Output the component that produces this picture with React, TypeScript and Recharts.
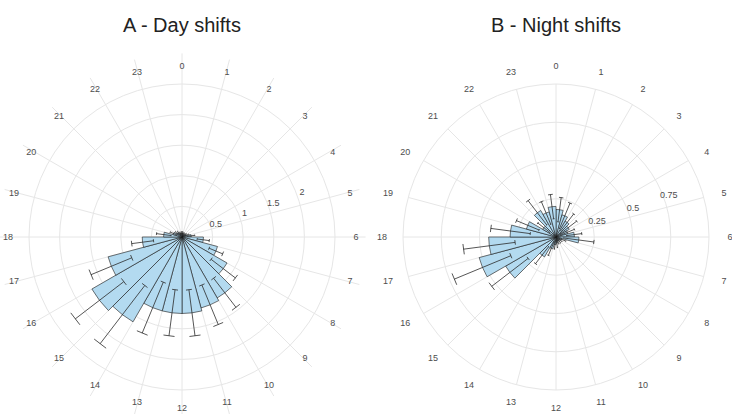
import React from 'react';
import {
  RadialBarChart, RadialBar, PolarAngleAxis, PolarRadiusAxis, PolarGrid, Sector
} from 'recharts';

const hours = [0, 1, 2, 3, 4, 5, 6, 7, 8, 9, 10, 11, 12, 13, 14, 15, 16, 17, 18, 19, 20, 21, 22, 23];

const dayMean = [0.06, 0.05, 0.05, 0.06, 0.08, 0.15, 0.35, 0.6, 0.85, 1.15, 1.2, 1.25, 1.25, 1.25, 1.6, 1.7, 1.25, 0.65, 0.3, 0.15, 0.1, 0.08, 0.06, 0.06];
const daySe = [0.03, 0.03, 0.03, 0.03, 0.04, 0.06, 0.1, 0.12, 0.25, 0.3, 0.35, 0.38, 0.38, 0.45, 0.6, 0.5, 0.36, 0.18, 0.12, 0.06, 0.04, 0.04, 0.03, 0.03];

const nightMean = [0.18, 0.15, 0.12, 0.1, 0.08, 0.12, 0.15, 0.04, 0.03, 0.03, 0.03, 0.04, 0.05, 0.08, 0.15, 0.38, 0.52, 0.44, 0.3, 0.2, 0.1, 0.2, 0.17, 0.2];
const nightSe = [0.08, 0.09, 0.07, 0.07, 0.05, 0.05, 0.1, 0.03, 0.02, 0.02, 0.02, 0.03, 0.03, 0.05, 0.07, 0.15, 0.2, 0.17, 0.13, 0.08, 0.05, 0.1, 0.08, 0.08];

const dayTicks = [0.5, 1, 1.5, 2, 2.5];
const nightTicks = [0.25, 0.5, 0.75, 1];

const FONT = '"Liberation Sans", Arial, sans-serif';
const RAD = Math.PI / 180;
const PLOT_R = 153;
const LABEL_R = 171;

const pt = (cx: number, cy: number, r: number, a: number) => ({
  x: cx + r * Math.cos(-a * RAD),
  y: cy + r * Math.sin(-a * RAD),
});

const BarWithError = (props: any) => {
  const { cx, cy, innerRadius, outerRadius, startAngle, endAngle, payload } = props;
  const { mean, se } = payload;
  const per = mean > 0 ? (outerRadius - innerRadius) / mean : 0;
  const rLo = innerRadius + Math.max(0, mean - se) * per;
  const rHi = innerRadius + (mean + se) * per;
  const mid = (startAngle + endAngle) / 2;
  const a = pt(cx, cy, rLo, mid);
  const b = pt(cx, cy, rHi, mid);
  const cap = (r: number) => {
    const p = pt(cx, cy, r, mid - 3.2);
    const q = pt(cx, cy, r, mid + 3.2);
    return `M${p.x},${p.y}L${q.x},${q.y}`;
  };
  return (
    <g>
      <Sector cx={cx} cy={cy} innerRadius={innerRadius} outerRadius={outerRadius}
        startAngle={startAngle} endAngle={endAngle}
        fill="#b3daf0" stroke="#1a1a1a" strokeWidth={0.6} />
      <line x1={a.x} y1={a.y} x2={b.x} y2={b.y} stroke="#2b2b2b" strokeWidth={0.8} />
      <path d={cap(rLo) + cap(rHi)} stroke="#2b2b2b" strokeWidth={0.8} fill="none" />
    </g>
  );
};

// hour labels sit on a fixed ring just outside the plot circle
const HourTick = (props: any) => {
  const { x, y, cx, cy, payload } = props;
  const len = Math.hypot(x - cx, y - cy) || 1;
  const ux = (x - cx) / len;
  const uy = (y - cy) / len;
  return (
    <text x={cx + ux * LABEL_R + ux * 3} y={cy + uy * LABEL_R}
      textAnchor="middle" dominantBaseline="central"
      fontSize={9} fill="#4d4d4d" fontFamily={FONT}>
      {payload.value}
    </text>
  );
};

const makeRadiusTick = (hidden: number[]) => (props: any) => {
  const { x, y, payload } = props;
  if (hidden.includes(payload.value)) return <g />;
  return (
    <text x={x + 5} y={y - 3} textAnchor="middle" dominantBaseline="central"
      fontSize={9} fill="#4d4d4d" fontFamily={FONT}>
      {payload.value}
    </text>
  );
};

const buildRows = (mean: number[], se: number[]) =>
  hours.map((h, i) => ({ hour: h, mid: h + 0.5, mean: mean[i], se: se[i] }));

const dayRows = buildRows(dayMean, daySe);
const nightRows = buildRows(nightMean, nightSe);

// gridMax is the value on the outer circle; domainMax is a "nice" domain end
const Panel = ({ data, cx, gridMax, domainMax, ticks, title }: any) => {
  const chartR = (PLOT_R * domainMax) / gridMax;
  return (
    <div style={{ position: 'relative', width: 366, height: 414 }}>
      <div style={{
        position: 'absolute', left: cx - 120, width: 240, top: 13, textAlign: 'center',
        fontFamily: FONT, fontSize: 20, color: '#222', lineHeight: '24px',
      }}>{title}</div>
      <RadialBarChart width={366} height={414} data={data} cx={cx} cy={237}
        innerRadius={0} outerRadius={chartR} startAngle={90} endAngle={-270}
        layout="centric" barCategoryGap={0} margin={{ top: 0, right: 0, bottom: 0, left: 0 }}>
        <PolarGrid gridType="circle" stroke="#e6e6e6" strokeWidth={1}
          innerRadius={0} outerRadius={PLOT_R} />
        <PolarAngleAxis type="number" dataKey="mid" domain={[0, 24]} ticks={hours}
          tickLine={false} axisLine={false} tick={HourTick} />
        <PolarRadiusAxis type="number" domain={[0, domainMax]} ticks={ticks} angle={20}
          axisLine={false} tickLine={false} tick={makeRadiusTick([gridMax])} />
        <RadialBar dataKey="mean" isAnimationActive={false} shape={BarWithError} />
      </RadialBarChart>
    </div>
  );
};

export default function App() {
  return (
    <div style={{ display: 'flex', width: 732, height: 414, background: '#fff' }}>
      <style>{'body{margin:0}'}</style>
      <Panel data={dayRows} cx={182} gridMax={2.5} domainMax={3} ticks={dayTicks} title="A - Day shifts" />
      <Panel data={nightRows} cx={190} gridMax={1} domainMax={1} ticks={nightTicks} title="B - Night shifts" />
    </div>
  );
}
